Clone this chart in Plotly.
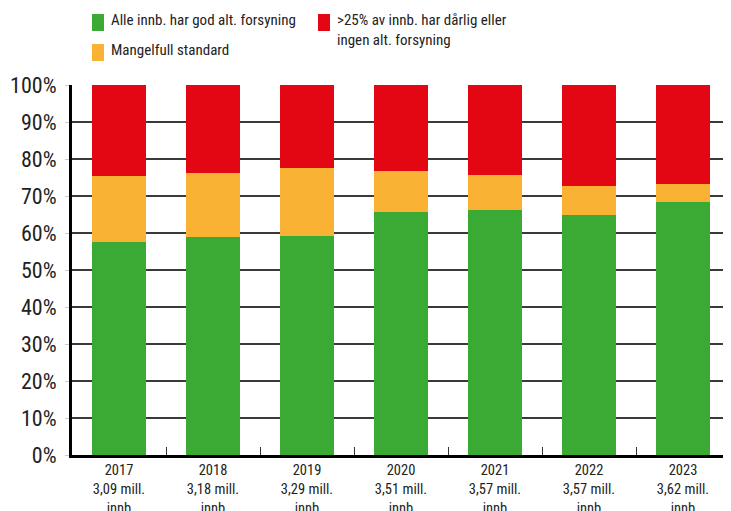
import plotly.graph_objects as go

years = ["2017", "2018", "2019", "2020", "2021", "2022", "2023"]
pop = ["3,09 mill.", "3,18 mill.", "3,29 mill.", "3,51 mill.", "3,57 mill.", "3,57 mill.", "3,62 mill."]
good = [57.6, 59.0, 59.3, 65.8, 66.1, 65.0, 68.5]
poor = [17.7, 17.2, 18.2, 10.9, 9.5, 7.6, 4.7]
bad = [24.7, 23.8, 22.5, 23.3, 24.4, 27.4, 26.8]
names = ["Alle innb. har god alt. forsyning", "Mangelfull standard",
         ">25% av innb. har dårlig eller<br>ingen alt. forsyning"]
colors = ["#3BAA35", "#F9B233", "#E30613"]
yticks = list(range(0, 101, 10))

cats = [f"{y}<br>{p}<br>innb" for y, p in zip(years, pop)]
FONT = "Liberation Sans Narrow, Arial Narrow, Roboto Condensed, sans-serif"

fig = go.Figure()
for vals, nm, c in zip([good, poor, bad], names, colors):
    fig.add_trace(go.Bar(x=cats, y=vals, name=nm, marker=dict(color=c, line=dict(width=0)),
                         width=0.565, showlegend=False))

# manual legend (positions in page pixels converted to paper coords; plot area 72..730 x 85..455)
leg = [(names[0], colors[0], 92, 14), (names[1], colors[1], 92, 44), (names[2], colors[2], 318, 14)]
for nm, c, x, y in leg:
    fig.add_shape(type="rect", xref="paper", yref="paper",
                  x0=(x - 72) / 658, x1=(x + 12 - 72) / 658,
                  y0=(455 - y - 17) / 370, y1=(455 - y) / 370,
                  fillcolor=c, line=dict(width=0))
    fig.add_annotation(xref="paper", yref="paper", x=(x + 17 - 72) / 658, y=(455 - y + 5) / 370,
                       text=nm, showarrow=False, xanchor="left", yanchor="top", align="left",
                       font=dict(size=15, color="#222", family=FONT))

fig.update_layout(
    barmode="stack",
    width=723, height=503,
    margin=dict(l=64, r=1, t=77, b=56, autoexpand=False),
    plot_bgcolor="white", paper_bgcolor="white",
    font=dict(family=FONT, size=14, color="#222"),
    xaxis=dict(range=[-0.5, 6.5], showline=True, linecolor="black", linewidth=3,
               ticks="inside", tickson="boundaries", ticklen=8, tickcolor="#333", tickwidth=1,
               tickfont=dict(size=14.5, family=FONT, color="#222"), fixedrange=True,
               automargin=False),
    yaxis=dict(range=[0, 100], tickvals=yticks, ticktext=[f"{v}%" for v in yticks],
               showgrid=True, gridcolor="#3a3a3a", gridwidth=2, showline=True, linecolor="black",
               linewidth=3, zeroline=False, ticks="outside", ticklen=4, tickcolor="#ccc",
               tickfont=dict(size=22, family=FONT, color="#222"), ticklabelstandoff=4,
               automargin=False),
)

fig.write_html("out.html")
